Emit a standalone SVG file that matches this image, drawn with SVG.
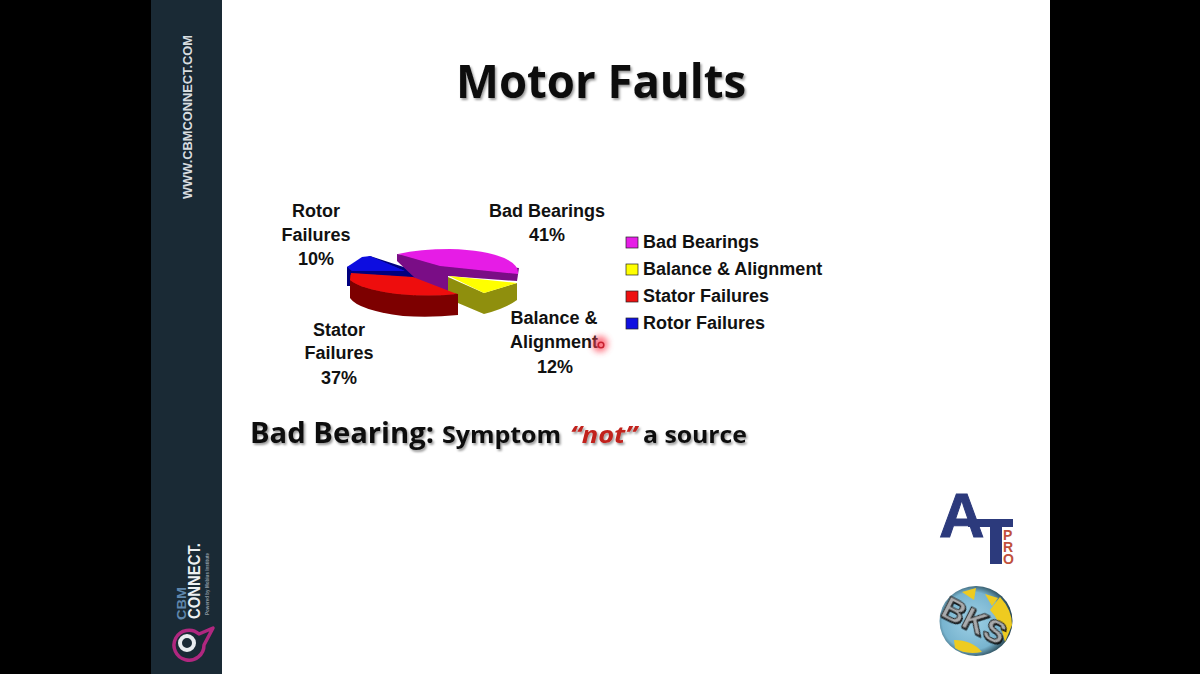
<svg xmlns="http://www.w3.org/2000/svg" width="1200" height="674" viewBox="0 0 1200 674">
<style>
.t{font-family:"Open Sans","Liberation Sans",sans-serif;font-weight:700;fill:#111}
.l{font-family:"Liberation Sans",Arial,sans-serif;font-weight:700;font-size:18px;fill:#111;text-anchor:middle}
.g{font-family:"Liberation Sans",Arial,sans-serif;font-weight:700;font-size:18px;fill:#111}
.k{stroke:#222;stroke-width:.7}
.s{font-family:"Liberation Sans",Arial,sans-serif;font-weight:700}
</style>
<defs>
<filter id="sh" x="-5%" y="-10%" width="110%" height="125%"><feDropShadow dx="1.5" dy="2" stdDeviation="1" flood-color="#000" flood-opacity=".4"/></filter>
<filter id="glow" x="-100%" y="-100%" width="300%" height="300%"><feGaussianBlur stdDeviation="3"/></filter>
<filter id="soft" x="-10%" y="-10%" width="120%" height="120%"><feGaussianBlur stdDeviation=".4"/></filter>
<filter id="raise" x="-10%" y="-20%" width="120%" height="140%"><feDropShadow dx="1" dy="1" stdDeviation=".5" flood-color="#000" flood-opacity=".9"/></filter>
<radialGradient id="globe" cx=".45" cy=".5" r=".55"><stop offset="0" stop-color="#9ed0e6"/><stop offset=".75" stop-color="#78b4cf"/><stop offset="1" stop-color="#24424f"/></radialGradient>
</defs>
<rect width="1200" height="674" fill="#000"/>
<rect x="222" y="0" width="828" height="674" fill="#fff"/>
<g id="sidebar">
<rect x="151" y="0" width="71" height="674" fill="#1a2a35"/>
<text class="s" transform="translate(192,199) rotate(-90)" font-size="13.5" fill="#d8dde0" textLength="164" lengthAdjust="spacingAndGlyphs">WWW.CBMCONNECT.COM</text>
<text class="s" transform="translate(186,620) rotate(-90)" font-size="13.5" fill="#5f87ad" textLength="33" lengthAdjust="spacingAndGlyphs">CBM</text>
<text class="s" transform="translate(200,619) rotate(-90)" font-size="16" fill="#eef1f3" textLength="76" lengthAdjust="spacingAndGlyphs">CONNECT.</text>
<text class="s" transform="translate(209,615) rotate(-90)" font-size="4.5" fill="#8d99a3" textLength="62" lengthAdjust="spacingAndGlyphs">Powered by Mobius Institute</text>
<path d="M199 634 L213 628 L204 645 A15 15 0 1 1 199 634 Z" fill="none" stroke="#b0277f" stroke-width="3.5" stroke-linejoin="round"/>
<circle cx="187" cy="643" r="7" fill="none" stroke="#e8ecef" stroke-width="4"/>
</g>
<g id="title"><text class="t" x="601" y="98" font-size="47" text-anchor="middle" textLength="290" lengthAdjust="spacingAndGlyphs" filter="url(#sh)">Motor Faults</text></g>
<g id="pie" filter="url(#soft)">
<g id="slice-rotor">
<path d="M347 267 L347 286 L352 286 L352 280 L425 284 L425 274 L370 256 Z" fill="#00007e"/>
<path d="M347 267 L362 257 L370 256 L405 271 L352 271 Z" fill="#1010e0"/>
</g>
<g id="slice-bearings">
<path d="M397 254 L397 261 L416 279 L448 292 L448 276 L517 281 L519 268 Z" fill="#7a0a86"/>
<path d="M398 254 Q420 249 450 249 Q490 250 508 260 Q519 266 518 274 L440 266 Z" fill="#e61ee6"/>
</g>
<g id="slice-balance">
<path d="M448 277 L484 293 L517 283 L517 300 Q505 309 484 314 L458 303 L448 295 Z" fill="#8f8f0a"/>
<path d="M449 276 L517 283 L484 293 Z" fill="#ffff00"/>
</g>
<g id="slice-stator">
<path d="M350 275 L350 298 Q358 310 403 316 Q430 318 458 315 L458 294 Z" fill="#7d0404"/>
<path d="M351 273 L413 277 L457 294 Q430 297 397 294 Q360 289 350 280 Z" fill="#ee1111"/>
</g>
</g>
<g id="labels">
<text class="l" x="316" y="217">Rotor</text><text class="l" x="316" y="241">Failures</text><text class="l" x="316" y="265">10%</text>
<text class="l" x="547" y="217">Bad Bearings</text><text class="l" x="547" y="241">41%</text>
<text class="l" x="554" y="324">Balance &amp;</text><text class="l" x="554" y="348">Alignment</text><text class="l" x="555" y="373">12%</text>
<text class="l" x="339" y="336">Stator</text><text class="l" x="339" y="359">Failures</text><text class="l" x="339" y="384">37%</text>
</g>
<g id="legend">
<rect class="k" x="626" y="237" width="12" height="11" fill="#e61ee6"/><text class="g" x="643" y="248">Bad Bearings</text>
<rect class="k" x="626" y="264" width="12" height="11" fill="#ffff00"/><text class="g" x="643" y="275">Balance &amp; Alignment</text>
<rect class="k" x="626" y="291" width="12" height="11" fill="#ee1111"/><text class="g" x="643" y="302">Stator Failures</text>
<rect class="k" x="626" y="318" width="12" height="11" fill="#1010e0"/><text class="g" x="643" y="329">Rotor Failures</text>
</g>
<g id="pointer">
<circle cx="600" cy="344" r="8" fill="#ff4a5c" opacity=".75" filter="url(#glow)"/>
<circle cx="601" cy="345" r="2.8" fill="none" stroke="#c8202f" stroke-width="1.6"/>
</g>
<g id="caption" filter="url(#sh)">
<text class="t" x="250" y="443" font-size="28.5" textLength="184" lengthAdjust="spacingAndGlyphs">Bad Bearing:</text>
<text class="t" x="442" y="443" font-size="24" textLength="119" lengthAdjust="spacingAndGlyphs">Symptom</text>
<text class="t" x="570" y="443" font-size="24" font-style="italic" style="fill:#c1201c" textLength="67" lengthAdjust="spacingAndGlyphs">“not”</text>
<text class="t" x="643" y="443" font-size="24" textLength="104" lengthAdjust="spacingAndGlyphs">a source</text>
</g>
<g id="logo-at">
<text class="s" x="939" y="537" font-size="63" fill="#2c3a7c" stroke="#2c3a7c" stroke-width="1">A</text>
<path d="M968 519 H1013 V527 H1002 V564 H990 V527 H968 Z" fill="#2c3a7c"/>
<text class="s" transform="translate(1003,540) rotate(90)" rotate="-90" font-size="14" letter-spacing="2.5" fill="#c0503c">PRO</text>
</g>
<g id="logo-bks">
<ellipse cx="976" cy="621" rx="36.5" ry="35" fill="url(#globe)"/>
<path d="M954 640 Q972 640 982 652 Q965 655 955 648 Z M1000 597 Q1012 610 1012 625 L1005 642 Q1000 620 990 610 Z M962 592 L976 588 L974 600 Z M985 594 L998 598 L992 606 Z" fill="#eecb20"/>
<text class="s" transform="translate(939,615) rotate(27)" font-size="31" fill="#a9abad" stroke="#222" stroke-width="1" textLength="68" lengthAdjust="spacingAndGlyphs" filter="url(#raise)">BKS</text>
</g>
</svg>
